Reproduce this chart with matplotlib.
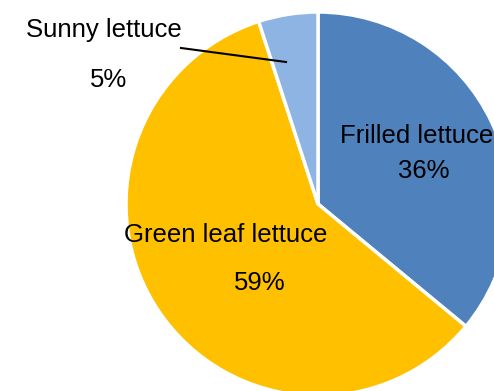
import matplotlib
matplotlib.use("Agg")
import matplotlib.pyplot as plt

# data
labels = ["Frilled lettuce", "Green leaf lettuce", "Sunny lettuce"]
shares = [36, 59, 5]
colors = ["#4F81BD", "#FFC000", "#8EB4E3"]

plt.rcParams["font.family"] = ["Liberation Sans", "DejaVu Sans"]

W, H = 494, 391
cx, cy, R = 318, 204, 192  # pie centre / radius in pixels


def px(x, y):
    # pixel position -> data coords (pie radius = 1)
    return (x - cx) / R, (cy - y) / R


fig = plt.figure(figsize=(W / 100, H / 100), dpi=100)
ax = fig.add_axes([0, 0, 1, 1])
ax.pie(shares, colors=colors, startangle=90, counterclock=False,
       radius=1, wedgeprops=dict(edgecolor="white", linewidth=2.5))
ax.set_xlim(-cx / R, (W - cx) / R)
ax.set_ylim(-(H - cy) / R, cy / R)
ax.set_aspect("equal")
ax.axis("off")

fs = 18.5
kw = dict(ha="center", va="baseline", fontsize=fs)
# label name / percentage, baseline positions in pixels
ax.text(*px(417, 143), labels[0], **kw)
ax.text(*px(424, 178), f"{shares[0]}%", **kw)
ax.text(*px(226, 242), labels[1], **kw)
ax.text(*px(260, 290), f"{shares[1]}%", **kw)
ax.text(*px(104, 37), labels[2], **kw)
ax.text(*px(109, 87), f"{shares[2]}%", **kw)
ax.plot(*zip(px(181, 48), px(286, 62)), color="black", linewidth=1.5)

fig.savefig("out.png", dpi=100)
